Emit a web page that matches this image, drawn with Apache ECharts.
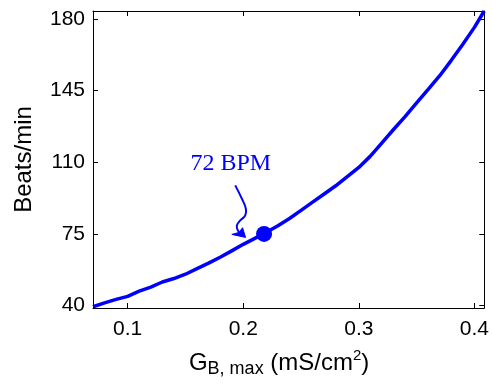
<!DOCTYPE html>
<html>
<head>
<meta charset="utf-8">
<script src="https://cdn.jsdelivr.net/npm/echarts@6/dist/echarts.min.js"></script>
<style>html,body{margin:0;padding:0;background:#fff;}#c{width:492px;height:390px;}</style>
</head>
<body>
<div id="c"></div>
<script>
// ---- data ----
const gValues   = [0.07, 0.08, 0.09, 0.10, 0.11, 0.12, 0.13, 0.14, 0.15, 0.16, 0.17, 0.18, 0.19, 0.20, 0.21, 0.22, 0.23, 0.24, 0.25, 0.26, 0.27, 0.28, 0.29, 0.30, 0.31, 0.32, 0.33, 0.34, 0.35, 0.36, 0.37, 0.38, 0.39, 0.40, 0.4085];
const bpmValues = [39.4, 41.3, 43.0, 44.5, 47.0, 49.0, 51.5, 53.2, 55.3, 58.0, 60.7, 63.6, 66.7, 69.9, 72.8, 75.8, 79.0, 82.5, 86.5, 90.5, 94.5, 98.5, 103.0, 107.5, 113.0, 119.5, 126.0, 132.3, 139.0, 145.6, 152.3, 159.8, 167.7, 175.9, 183.9];
const markerPoint = [0.218, 75];
const annotationText = '72 BPM';
const xTicks = [0.1, 0.2, 0.3, 0.4];
const yTicks = [40, 75, 110, 145, 180];
const xRange = [0.07, 0.4085];
const yRange = [38.8, 183.9];

const BLUE = '#0000ff';
const SANS = 'Liberation Sans, Arial, sans-serif';
const SERIF = 'Liberation Serif, Times New Roman, serif';

const chart = echarts.init(document.getElementById('c'), null, {renderer: 'canvas'});

function xAx(pos, show) {
  return {
    type: 'value', position: pos, min: xRange[0], max: xRange[1],
    axisLine: {show: true, onZero: false, lineStyle: {color: '#000', width: 1}},
    axisTick: {show: true, inside: true, length: 5, customValues: xTicks, lineStyle: {color: '#000', width: 1}},
    axisLabel: show ? {show: true, customValues: xTicks, margin: 11, color: '#000', fontSize: 21, fontFamily: SANS,
      formatter: v => String(+v.toFixed(2))} : {show: false},
    splitLine: {show: false}
  };
}
function yAx(pos, show) {
  return {
    type: 'value', position: pos, min: yRange[0], max: yRange[1],
    axisLine: {show: true, onZero: false, lineStyle: {color: '#000', width: 1}},
    axisTick: {show: true, inside: true, length: 5, customValues: yTicks, lineStyle: {color: '#000', width: 1}},
    axisLabel: show ? {show: true, customValues: yTicks, margin: 8, color: '#000', fontSize: 21, fontFamily: SANS,
      formatter: v => String(Math.round(v))} : {show: false},
    splitLine: {show: false}
  };
}

const xMain = xAx('bottom', true);
xMain.name = '{g|G}{sub|B, max}{g| (mS/cm}{sup|2}{g|)}';
xMain.nameLocation = 'middle';
xMain.nameGap = 40;
xMain.nameTextStyle = {
  padding: [0, 19, 0, 0],
  rich: {
    g: {fontSize: 24, fontFamily: SANS, color: '#000', lineHeight: 30, verticalAlign: 'middle'},
    sub: {fontSize: 18, fontFamily: SANS, color: '#000', lineHeight: 13, verticalAlign: 'bottom'},
    sup: {fontSize: 15, fontFamily: SANS, color: '#000', lineHeight: 17, verticalAlign: 'top'}
  }
};
const yMain = yAx('left', true);
yMain.name = 'Beats/min';
yMain.nameLocation = 'middle';
yMain.nameGap = 57;
yMain.nameTextStyle = {fontSize: 24, fontFamily: SANS, color: '#000'};

chart.setOption({
  animation: false,
  backgroundColor: '#fff',
  grid: {left: 93, right: 1, top: 11, bottom: 82, containLabel: false},
  xAxis: [xMain, xAx('top', false)],
  yAxis: [yMain, yAx('right', false)],
  series: [
    {
      type: 'line', xAxisIndex: 0, yAxisIndex: 0,
      data: gValues.map((g, i) => [g, bpmValues[i]]),
      showSymbol: false, smooth: false,
      lineStyle: {color: BLUE, width: 3.5},
      clip: true, z: 2
    },
    {
      type: 'scatter', xAxisIndex: 0, yAxisIndex: 0,
      data: [markerPoint], symbol: 'circle', symbolSize: 16,
      itemStyle: {color: BLUE, opacity: 1}, z: 3
    }
  ]
});

// annotation placed relative to the marker's pixel position
const M = chart.convertToPixel({xAxisIndex: 0, yAxisIndex: 0}, markerPoint);
const rel = (dx, dy) => [M[0] + dx, M[1] + dy];
const stem = [[-28.8,-48.5],[-22.2,-35.2],[-18.2,-25.2],[-18.8,-18.5],[-23.8,-13.5],[-27.2,-8.5],[-26.2,-3.5],[-23,0.3]].map(p => rel(p[0], p[1]));
const head = [[-18.5,3.5],[-32.2,0.5],[-25,-1.5],[-21.5,-6.2]].map(p => rel(p[0], p[1]));
chart.setOption({
  graphic: [
    {type: 'text', x: M[0] - 33.3, y: M[1] - 70.2,
     style: {text: annotationText, fill: BLUE, font: '24px ' + SERIF, textAlign: 'center', textVerticalAlign: 'middle'}},
    {type: 'polyline', shape: {points: stem, smooth: 0.4}, style: {stroke: BLUE, lineWidth: 2, fill: null}},
    {type: 'polygon', shape: {points: head}, style: {fill: BLUE, stroke: BLUE, lineWidth: 1}}
  ]
});
</script>
</body>
</html>
